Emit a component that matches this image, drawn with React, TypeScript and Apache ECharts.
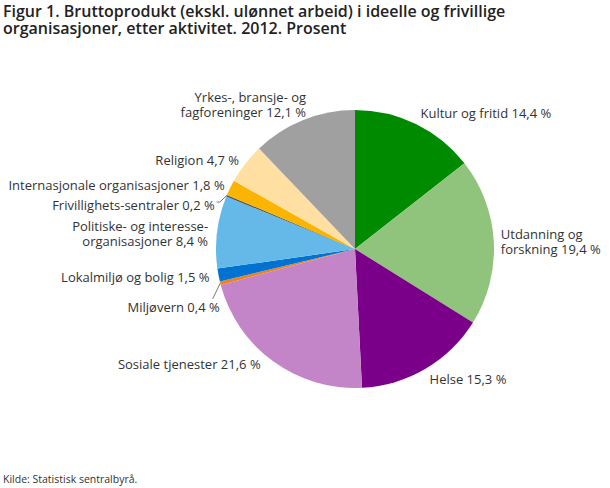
import React, { useEffect, useRef } from "react";
import * as echarts from "echarts";

const categories = [
  "Kultur og fritid",
  "Utdanning og\nforskning",
  "Helse",
  "Sosiale tjenester",
  "Miljøvern",
  "Lokalmiljø og bolig",
  "Politiske- og interesse-\norganisasjoner",
  "Frivillighets-sentraler",
  "Internasjonale organisasjoner",
  "Religion",
  "Yrkes-, bransje- og\nfagforeninger",
];
const values = [14.4, 19.4, 15.3, 21.6, 0.4, 1.5, 8.4, 0.2, 1.8, 4.7, 12.1];
const colors = [
  "#008a00",
  "#90c47c",
  "#7a008a",
  "#c484c8",
  "#f0801e",
  "#0073d2",
  "#64b9e8",
  "#555555",
  "#fbb400",
  "#ffdfa2",
  "#a0a0a0",
];
const showLine = [false, false, false, false, true, false, false, true, false, false, false];

const titleLine1 = "Figur 1. Bruttoprodukt (ekskl. ulønnet arbeid) i ideelle og frivillige";
const titleLine2 = "organisasjoner, etter aktivitet. 2012. Prosent";
const sourceText = "Kilde: Statistisk sentralbyrå.";

// small label nudges (dx, dy) to mimic the reference's label placement
const labelNudge: [number, number][] = [
  [-3, -6],
  [-4, 0],
  [-4, 5],
  [-4, -2],
  [6, 14],
  [0, 1],
  [0, 2],
  [0, 3],
  [3, 0],
  [2, 0],
  [10, -10],
];

export default function App() {
  const ref = useRef<HTMLDivElement>(null);
  useEffect(() => {
    document.body.style.margin = "0";
    const chart = echarts.init(ref.current!, null, { renderer: "svg" });
    const fmt = (v: number) => v.toFixed(1).replace(".", ",") + " %";
    const titleStyle = {
      fontSize: 16,
      fontWeight: 600,
      lineHeight: 17,
      color: "#222",
      fontFamily: "'Open Sans', sans-serif",
    };
    chart.setOption({
      animation: false,
      textStyle: { fontFamily: "'Open Sans', sans-serif" },
      title: [
        { text: titleLine1, left: 3, top: 2, padding: 0, textStyle: titleStyle },
        { text: titleLine2, left: 3, top: 19, padding: 0, textStyle: titleStyle },
        {
          text: sourceText,
          left: 3,
          top: 473,
          padding: 0,
          textStyle: {
            fontSize: 10.5,
            fontWeight: "normal",
            color: "#333",
            fontFamily: "'Open Sans', sans-serif",
          },
        },
      ],
      series: [
        {
          type: "pie",
          center: [355, 249],
          radius: 139,
          startAngle: 90,
          clockwise: true,
          avoidLabelOverlap: true,
          label: {
            show: true,
            position: "outside",
            fontSize: 13,
            color: "#333",
            lineHeight: 15,
            overflow: "none",
            bleedMargin: 0,
            fontFamily: "'Open Sans', sans-serif",
            formatter: (p: any) => p.name + " " + fmt(p.value),
            distanceToLabelLine: 2,
          },
          labelLine: {
            show: true,
            length: 6,
            length2: 3,
            lineStyle: { color: "#777", width: 1 },
          },
          labelLayout: (p: any) => {
            const n = labelNudge[p.dataIndex] || [0, 0];
            const out: any = { dx: n[0], dy: n[1] };
            const pts = p.labelLinePoints;
            if (showLine[p.dataIndex] && pts && pts.length) {
              const r = p.labelRect;
              const right = r.x + r.width + n[0];
              const top = r.y + n[1];
              const midY = top + r.height / 2;
              const start = [pts[0][0], pts[0][1]];
              if (midY - start[1] > r.height) {
                const end = [right - 7, top - 1];
                const mid = [(start[0] + end[0]) / 2, (start[1] + end[1]) / 2];
                out.labelLinePoints = [start, mid, end];
              }
            }
            return out;
          },
          emphasis: { disabled: true },
          data: categories.map((c, i) => ({
            name: c,
            value: values[i],
            itemStyle: { color: colors[i] },
            labelLine: { show: showLine[i] },
          })),
        },
      ],
    });
    return () => chart.dispose();
  }, []);
  return <div ref={ref} style={{ width: 610, height: 488 }} />;
}
